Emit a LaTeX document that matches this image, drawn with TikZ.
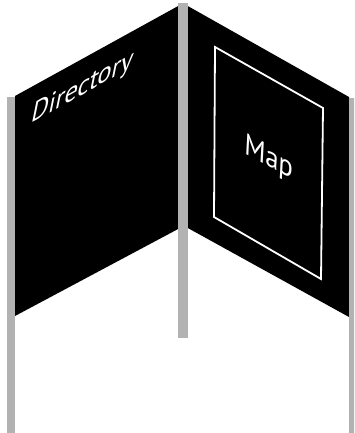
\documentclass[tikz,border=0pt]{standalone}
\usepackage{fontspec}
\setmainfont{PT Sans}
\begin{document}
\begin{tikzpicture}[x=1pt,y=-1pt,
  panel/.style={fill=black,draw=none},
  post/.style={fill=gray!60,draw=none},
  frameline/.style={draw=white,line width=1.8pt,line join=miter},
  signtext/.style={text=white,font=\fontsize{30}{30}\selectfont,inner sep=0pt}]
\useasboundingbox (0,0) rectangle (354,433);
\clip (0,0) rectangle (354,433);
% panels
\fill[panel] (15,96) -- (180,5) -- (180,228) -- (15,316) -- cycle;
\fill[panel] (186,5) -- (349,97) -- (349,317) -- (186,227) -- cycle;
% inner frame on the right panel
\draw[frameline] (215,47) -- (323,108) -- (321,279) -- (214,217) -- cycle;
% posts
\fill[post] (7,97) rectangle (15,433);
\fill[post] (178,3) rectangle (188,338);
\fill[post] (349,98) rectangle (356,433);
% texts
\node[signtext,anchor=base west,cm={0.875,0.485,0.2,0.98,(0,0)}] (dir) at (30,124) {Directory};
\node[signtext,anchor=base west,cm={0.883,-0.469,0.05,1,(0,0)}] (map) at (244,153) {Map};
\end{tikzpicture}
\end{document}
